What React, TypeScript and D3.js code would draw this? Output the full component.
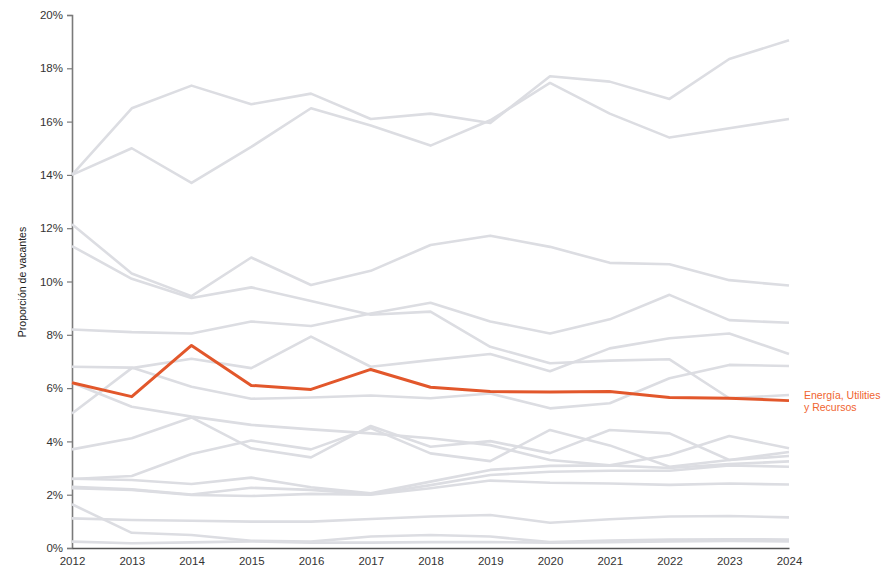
import React, { useRef, useEffect } from 'react'
import * as d3 from 'd3'

const years = [2012, 2013, 2014, 2015, 2016, 2017, 2018, 2019, 2020, 2021, 2022, 2023, 2024]
const yTicks = [0, 2, 4, 6, 8, 10, 12, 14, 16, 18, 20]

const highlightName = 'Energía, Utilities y Recursos'
const highlightValues = [6.2, 5.68, 7.6, 6.1, 5.95, 6.7, 6.03, 5.87, 5.85, 5.87, 5.65, 5.62, 5.53]

// other sectors, drawn in grey
const sectorA = [14.0, 16.5, 17.35, 16.65, 17.05, 16.1, 16.3, 15.95, 17.7, 17.5, 16.85, 18.35, 19.05]
const sectorB = [14.0, 15.0, 13.7, 15.05, 16.5, 15.85, 15.1, 16.05, 17.45, 16.3, 15.4, 15.75, 16.1]
const sectorC = [12.15, 10.3, 9.45, 10.9, 9.87, 10.4, 11.37, 11.72, 11.3, 10.7, 10.65, 10.05, 9.85]
const sectorD = [11.33, 10.1, 9.38, 9.78, 9.27, 8.75, 8.87, 7.55, 6.93, 7.03, 7.08, 5.62, 5.74]
const sectorE = [8.2, 8.1, 8.05, 8.5, 8.33, 8.8, 9.2, 8.5, 8.05, 8.58, 9.5, 8.55, 8.45]
const sectorF = [5.05, 6.75, 7.1, 6.75, 7.93, 6.8, 7.05, 7.28, 6.63, 7.49, 7.87, 8.05, 7.28]
const sectorG = [6.8, 6.77, 6.05, 5.6, 5.65, 5.72, 5.62, 5.8, 5.24, 5.43, 6.37, 6.87, 6.83]
const sectorH = [6.2, 5.3, 4.93, 4.62, 4.45, 4.3, 4.12, 3.86, 3.3, 3.1, 3.49, 4.2, 3.74]
const sectorI = [3.7, 4.12, 4.9, 3.74, 3.4, 4.58, 3.8, 4.01, 3.56, 4.43, 4.3, 3.3, 3.6]
const sectorJ = [2.59, 2.7, 3.53, 4.03, 3.7, 4.5, 3.55, 3.26, 4.43, 3.85, 3.05, 3.3, 3.45]
const sectorK = [2.6, 2.55, 2.4, 2.64, 2.28, 2.05, 2.49, 2.93, 3.08, 3.1, 3.0, 3.15, 3.25]
const sectorL = [2.3, 2.2, 2.01, 2.26, 2.18, 2.02, 2.36, 2.74, 2.86, 2.9, 2.9, 3.1, 3.05]
const sectorM = [2.24, 2.18, 1.99, 1.95, 2.03, 2.0, 2.24, 2.53, 2.45, 2.42, 2.37, 2.42, 2.38]
const sectorN = [1.64, 0.57, 0.49, 0.27, 0.24, 0.43, 0.49, 0.43, 0.22, 0.28, 0.32, 0.33, 0.32]
const sectorO = [1.11, 1.05, 1.02, 0.99, 0.99, 1.09, 1.18, 1.24, 0.95, 1.08, 1.18, 1.2, 1.15]
const sectorP = [0.24, 0.18, 0.21, 0.25, 0.2, 0.2, 0.22, 0.22, 0.2, 0.22, 0.25, 0.26, 0.25]

const greySeries = [
  sectorA, sectorB, sectorC, sectorD, sectorE, sectorF, sectorG, sectorH,
  sectorI, sectorJ, sectorK, sectorL, sectorM, sectorN, sectorO, sectorP,
]

export default function App() {
  const ref = useRef<SVGSVGElement>(null)

  useEffect(() => {
    const svg = d3.select(ref.current)
    svg.selectAll('*').remove()

    const font = '"Liberation Sans", Arial, sans-serif'
    const x = d3.scaleLinear().domain([2012, 2024]).range([72, 789])
    const y = d3.scaleLinear().domain([0, 20]).range([548, 15])

    const line = d3
      .line<number>()
      .x((d, i) => x(years[i]))
      .y((d) => y(d))

    // y axis
    const yAxis = d3
      .axisLeft(y)
      .tickValues(yTicks)
      .tickFormat((d) => `${d}%`)
      .tickSize(5)
      .tickPadding(4)
    const yg = svg.append('g').attr('transform', 'translate(72,0)').call(yAxis)
    yg.select('.domain').attr('stroke', '#7a7a7a').attr('stroke-width', 1.6)
    yg.selectAll('.tick line').attr('stroke', '#7a7a7a').attr('stroke-width', 1.2)
    yg.selectAll('.tick text')
      .attr('fill', '#333')
      .style('font-family', font)
      .style('font-size', '11.5px')

    // x axis
    const xAxis = d3
      .axisBottom(x)
      .tickValues(years)
      .tickFormat(d3.format('d'))
      .tickSize(0)
      .tickPadding(9)
    const xg = svg.append('g').attr('transform', 'translate(0,548)').call(xAxis)
    xg.select('.domain').attr('stroke', '#555').attr('stroke-width', 1.6)
    xg.selectAll('.tick text')
      .attr('fill', '#333')
      .style('font-family', font)
      .style('font-size', '11.5px')

    // axis title
    svg
      .append('text')
      .attr('transform', 'translate(26,282) rotate(-90)')
      .attr('text-anchor', 'middle')
      .attr('fill', '#222')
      .style('font-family', font)
      .style('font-size', '10.5px')
      .text('Proporción de vacantes')

    greySeries.forEach((values) => {
      svg
        .append('path')
        .datum(values)
        .attr('fill', 'none')
        .attr('stroke', '#dcdde2')
        .attr('stroke-width', 2.6)
        .attr('stroke-linejoin', 'round')
        .attr('d', line)
    })

    svg
      .append('path')
      .datum(highlightValues)
      .attr('fill', 'none')
      .attr('stroke', '#e2572b')
      .attr('stroke-width', 3)
      .attr('stroke-linejoin', 'round')
      .attr('d', line)

    const last = highlightValues[highlightValues.length - 1]
    const label = svg
      .append('text')
      .attr('x', 804)
      .attr('y', y(last) - 2)
      .attr('fill', '#f0642f')
      .style('font-family', font)
      .style('font-size', '10.5px')
    const words = highlightName.split(' y ')
    label.append('tspan').attr('x', 804).attr('dy', 0).text(words[0])
    label.append('tspan').attr('x', 804).attr('dy', 12).text('y ' + words[1])
  }, [])

  return (
    <svg
      ref={ref}
      width={882}
      height={570}
      style={{ position: 'absolute', left: 0, top: 0, background: '#fff' }}
    />
  )
}
